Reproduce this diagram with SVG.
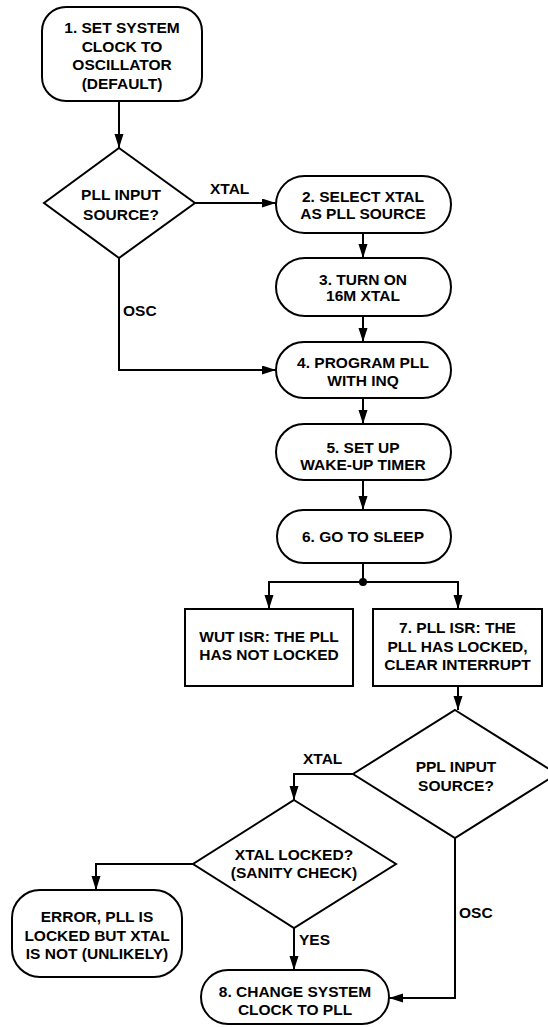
<svg xmlns="http://www.w3.org/2000/svg" width="548" height="1027" viewBox="0 0 548 1027">
<defs>
<marker id="ah" markerUnits="userSpaceOnUse" markerWidth="15" markerHeight="10" refX="14" refY="4.5" orient="auto">
<path d="M0,0 L14,4.5 L0,9 z" fill="#000"/>
</marker>
<style>
.n{fill:#fff;stroke:#000;stroke-width:2}
.t{font-family:"Liberation Sans",Arial,sans-serif;font-weight:bold;font-size:15.5px;text-anchor:middle;fill:#000}
.l{font-family:"Liberation Sans",Arial,sans-serif;font-weight:bold;font-size:15.5px;fill:#000}
.c{fill:none;stroke:#000;stroke-width:2}
</style>
</defs>
<rect width="548" height="1027" fill="#fff"/>
<g id="connectors">
<path class="c" d="M119,101 V148" marker-end="url(#ah)"/>
<path class="c" d="M195,203 H276" marker-end="url(#ah)"/>
<path class="c" d="M119,258 V370 H276" marker-end="url(#ah)"/>
<path class="c" d="M363,233 V258" marker-end="url(#ah)"/>
<path class="c" d="M363,316 V342" marker-end="url(#ah)"/>
<path class="c" d="M363,398 V424" marker-end="url(#ah)"/>
<path class="c" d="M363,480 V510" marker-end="url(#ah)"/>
<path class="c" d="M363,563 V582"/>
<circle cx="363" cy="582" r="4" fill="#000"/>
<path class="c" d="M363,582 H269 V609" marker-end="url(#ah)"/>
<path class="c" d="M363,582 H458 V609" marker-end="url(#ah)"/>
<path class="c" d="M458,686 V710" marker-end="url(#ah)"/>
<path class="c" d="M353,774 H294 V800" marker-end="url(#ah)"/>
<path class="c" d="M193,864 H96 V890" marker-end="url(#ah)"/>
<path class="c" d="M294,928 V970" marker-end="url(#ah)"/>
<path class="c" d="M455,838 V998 H389" marker-end="url(#ah)"/>
<text class="l" x="210" y="194">XTAL</text>
<text class="l" x="123" y="316">OSC</text>
<text class="l" x="303" y="764">XTAL</text>
<text class="l" x="299" y="945">YES</text>
<text class="l" x="459" y="918">OSC</text>
</g>
<g id="n1">
<rect class="n" x="42" y="7" width="160" height="94" rx="24"/>
<text class="t" x="122" y="33">1. SET SYSTEM</text>
<text class="t" x="122" y="51.5">CLOCK TO</text>
<text class="t" x="122" y="70">OSCILLATOR</text>
<text class="t" x="122" y="88.5">(DEFAULT)</text>
</g>
<g id="d1">
<polygon class="n" points="119,148 195,203 119,258 44,203"/>
<text class="t" x="121" y="200">PLL INPUT</text>
<text class="t" x="121" y="220">SOURCE?</text>
</g>
<g id="n2">
<rect class="n" x="276" y="176" width="175" height="57" rx="28.5"/>
<text class="t" x="363" y="202">2. SELECT XTAL</text>
<text class="t" x="363" y="218.5">AS PLL SOURCE</text>
</g>
<g id="n3">
<rect class="n" x="276" y="258" width="175" height="58" rx="29"/>
<text class="t" x="363" y="285">3. TURN ON</text>
<text class="t" x="363" y="301">16M XTAL</text>
</g>
<g id="n4">
<rect class="n" x="276" y="342" width="175" height="56" rx="28"/>
<text class="t" x="363" y="368">4. PROGRAM PLL</text>
<text class="t" x="363" y="386">WITH INQ</text>
</g>
<g id="n5">
<rect class="n" x="276" y="424" width="175" height="56" rx="28"/>
<text class="t" x="363" y="453">5. SET UP</text>
<text class="t" x="363" y="470">WAKE-UP TIMER</text>
</g>
<g id="n6">
<rect class="n" x="277" y="510" width="174" height="53" rx="26.5"/>
<text class="t" x="363" y="542">6. GO TO SLEEP</text>
</g>
<g id="wut">
<rect class="n" x="185" y="609" width="168" height="77"/>
<text class="t" x="269" y="642">WUT ISR: THE PLL</text>
<text class="t" x="269" y="660">HAS NOT LOCKED</text>
</g>
<g id="n7">
<rect class="n" x="373" y="609" width="169" height="77"/>
<text class="t" x="457.5" y="633">7. PLL ISR: THE</text>
<text class="t" x="457.5" y="652">PLL HAS LOCKED,</text>
<text class="t" x="457.5" y="670">CLEAR INTERRUPT</text>
</g>
<g id="d2">
<polygon class="n" points="455,710 557,774 455,838 353,774"/>
<text class="t" x="456" y="772">PPL INPUT</text>
<text class="t" x="456" y="791">SOURCE?</text>
</g>
<g id="d3">
<polygon class="n" points="294,800 396,864 294,928 193,864"/>
<text class="t" x="294" y="860">XTAL LOCKED?</text>
<text class="t" x="294" y="878">(SANITY CHECK)</text>
</g>
<g id="err">
<rect class="n" x="12" y="890" width="170" height="87" rx="28"/>
<text class="t" x="97" y="922">ERROR, PLL IS</text>
<text class="t" x="97" y="940.5">LOCKED BUT XTAL</text>
<text class="t" x="97" y="959">IS NOT (UNLIKELY)</text>
</g>
<g id="n8">
<rect class="n" x="201" y="970" width="188" height="54" rx="27"/>
<text class="t" x="295" y="997">8. CHANGE SYSTEM</text>
<text class="t" x="295" y="1015">CLOCK TO PLL</text>
</g>
</svg>
